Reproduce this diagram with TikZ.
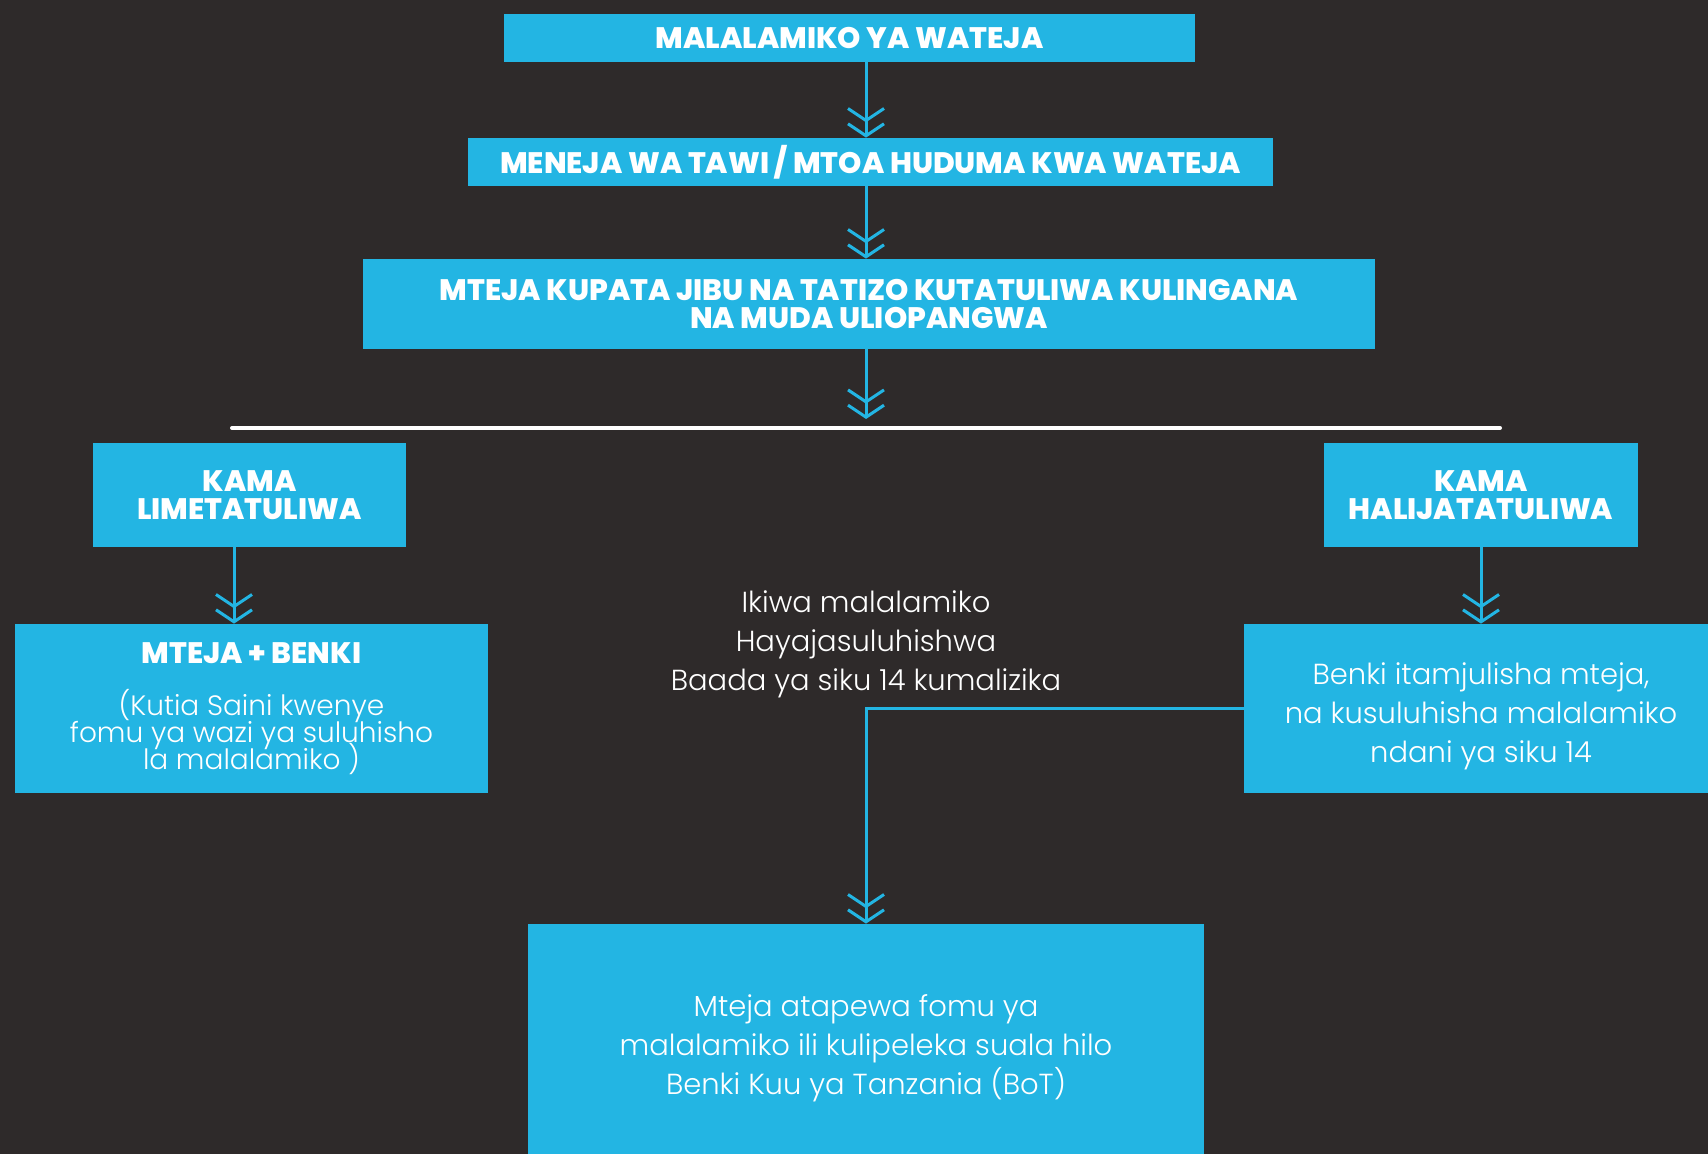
\documentclass[tikz,border=0pt]{standalone}
\usepackage{fontspec}
\setmainfont{Poppins}
\newfontfamily\thinfont{Poppins Light}
\newfontfamily\heavyfont{Poppins ExtraBold}
\usetikzlibrary{arrows.meta}

\definecolor{bgdark}{RGB}{46,42,42}
\definecolor{skyblue}{RGB}{35,181,227}
\newcommand{\tightlines}{\setlength{\lineskiplimit}{-20pt}}

\tikzset{
  box/.style={fill=skyblue, text=white, align=center, inner sep=0pt},
  head/.style={font={\heavyfont\fontsize{14.8}{14}\selectfont\tightlines}},
  body/.style={font={\thinfont\fontsize{14.5}{19.5}\selectfont}},
  flow/.style={draw=skyblue, line width=1.5pt,
    -{Straight Barb[length=6pt,width=18pt] Straight Barb[length=6pt,width=18pt]}}
}

\begin{document}
\begin{tikzpicture}[x=0.5pt, y=-0.5pt]
\fill[bgdark] (0,0) rectangle (1708,1154);
\useasboundingbox (0,0) rectangle (1708,1154);

% top of the chain
\node[box, head, minimum width=345.5pt, minimum height=24pt] (complaint) at (849.5,38) {MALALAMIKO YA WATEJA};
\node[box, head, minimum width=402.5pt, minimum height=24pt] (manager) at (870.5,162) {MENEJA WA TAWI / MTOA HUDUMA KWA WATEJA};
\node[box, head, minimum width=506pt, minimum height=45pt] (answer) at (869,304) {MTEJA KUPATA JIBU NA TATIZO KUTATULIWA KULINGANA\\NA MUDA ULIOPANGWA};

\coordinate (axis) at (866,0);
\coordinate (leftaxis) at (234,0);
\coordinate (split) at (866,428);
\coordinate (splitL) at (232,428);
\coordinate (splitR) at (1500,428);

\draw[flow] (complaint.south -| axis) -- (manager.north -| axis);
\draw[flow] (manager.south -| axis) -- (answer.north -| axis);
\draw[flow, shorten >=4.5pt] (answer.south -| axis) -- (split);
\draw[white, line width=2pt, line cap=round] (splitL) -- (splitR);

% the two cases
\node[box, head, minimum width=156.5pt, minimum height=52pt] (solved) at (249.5,495) {KAMA\\LIMETATULIWA};
\node[box, head, minimum width=157pt, minimum height=52pt] (unsolved) at (1481,495) {KAMA\\HALIJATATULIWA};

\node[box, minimum width=236.5pt, minimum height=84.5pt, font={\thinfont\fontsize{14}{13.5}\selectfont\tightlines}] (signed) at (251.5,708.5)
  {{\heavyfont\fontsize{14.8}{13.5}\selectfont MTEJA + BENKI}\\[12.5pt](Kutia Saini kwenye\\fomu ya wazi ya suluhisho\\la malalamiko )};
\node[box, body, minimum width=237pt, minimum height=84.5pt] (informed) at (1481,708.5)
  {\rule{0pt}{19pt}Benki itamjulisha mteja,\\na kusuluhisha malalamiko\\ndani ya siku 14};

\draw[flow] (solved.south -| leftaxis) -- (signed.north -| leftaxis);
\draw[flow] (unsolved.south) -- (informed.north);

% escalation
\node[body, text=white, align=center] (note) at (866,644)
  {Ikiwa malalamiko\\Hayajasuluhishwa\\Baada ya siku 14 kumalizika};
\node[box, body, minimum width=338pt, minimum height=124pt] (bot) at (866,1048)
  {Mteja atapewa fomu ya\\malalamiko ili kulipeleka suala hilo\\Benki Kuu ya Tanzania (BoT)};

\draw[flow] (informed.west) -| (bot.north);

\end{tikzpicture}
\end{document}
